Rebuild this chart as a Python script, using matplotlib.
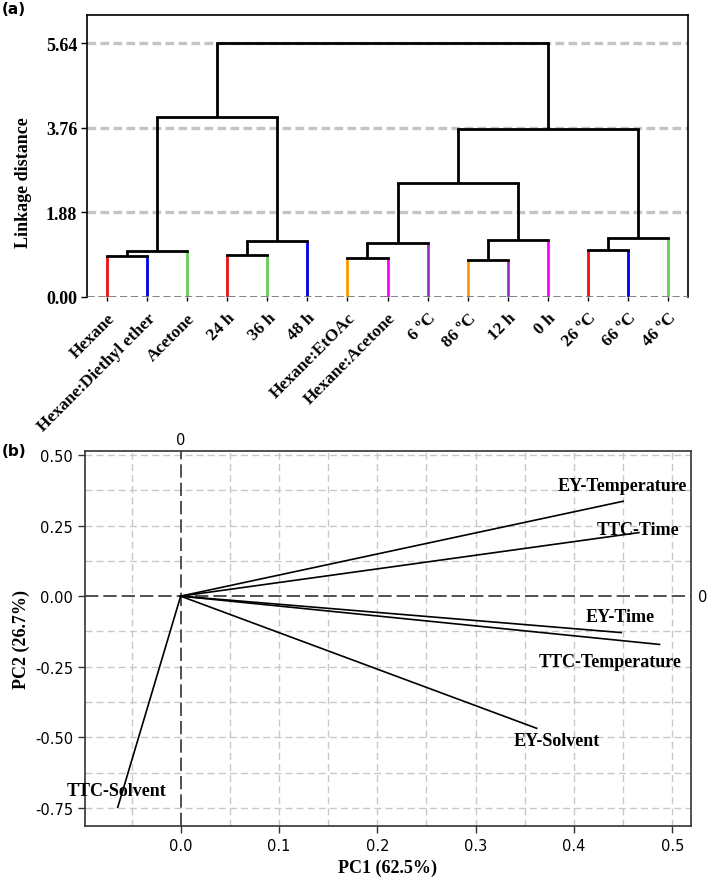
import matplotlib
matplotlib.use("Agg")
import matplotlib.pyplot as plt
import numpy as np

# ---------------- Data ----------------
# Panel (a): dendrogram (leaves in display order)
leaf_labels = ["Hexane", "Hexane:Diethyl ether", "Acetone", "24 h", "36 h", "48 h",
               "Hexane:EtOAc", "Hexane:Acetone", "6 ºC", "86 ºC", "12 h", "0 h",
               "26 ºC", "66 ºC", "46 ºC"]
leaf_colors = ["#ee1111", "#0000ee", "#66cc55", "#ee1111", "#66cc55", "#0000ee",
               "#ff9900", "#ff00ff", "#9933cc", "#ff9900", "#9933cc", "#ff00ff",
               "#ee1111", "#0000ee", "#66cc55"]
# merges: (child_a, child_b, height); new cluster ids start at len(leaf_labels)
merge_a = [0, 15, 3, 17, 6, 19, 9, 21, 12, 23, 20, 25, 16, 27]
merge_b = [1, 2, 4, 5, 7, 8, 10, 11, 13, 14, 22, 24, 18, 26]
merge_h = [0.92, 1.03, 0.94, 1.24, 0.87, 1.19, 0.83, 1.27, 1.05, 1.32, 2.53, 3.73, 4.00, 5.64]
dendro_ticks = [0.00, 1.88, 3.76, 5.64]

# Panel (b): PCA loadings
pc_vars = ["EY-Temperature", "TTC-Time", "EY-Time", "TTC-Temperature", "EY-Solvent", "TTC-Solvent"]
pc1 = [0.450, 0.466, 0.448, 0.487, 0.362, -0.064]
pc2 = [0.336, 0.225, -0.129, -0.171, -0.468, -0.748]
lab_x = [0.449, 0.465, 0.447, 0.437, 0.382, -0.065]
lab_y = [0.393, 0.237, -0.071, -0.231, -0.512, -0.689]
pc_xticks = [0.0, 0.1, 0.2, 0.3, 0.4, 0.5]
pc_yticks = [0.50, 0.25, 0.00, -0.25, -0.50, -0.75]

# ---------------- Figure ----------------
W, H = 709, 879
fig = plt.figure(figsize=(W / 100, H / 100), dpi=100)
serif = ["Liberation Serif", "DejaVu Serif"]

# ---- Panel (a) ----
ax1 = fig.add_axes([87 / W, 1 - 298 / H, 601 / W, 282 / H])
n = len(leaf_labels)
xpos = {i: float(i) for i in range(n)}
hgt = {i: 0.0 for i in range(n)}
for k, (a, b, h) in enumerate(zip(merge_a, merge_b, merge_h)):
    cid = n + k
    for c in (a, b):
        col = leaf_colors[c] if c < n else "black"
        ax1.plot([xpos[c], xpos[c]], [hgt[c], h], color=col, lw=2.0,
                 solid_capstyle="butt", zorder=3)
    ax1.plot([xpos[a], xpos[b]], [h, h], color="black", lw=2.0,
             solid_capstyle="projecting", zorder=3)
    xpos[cid] = (xpos[a] + xpos[b]) / 2
    hgt[cid] = h

for t in dendro_ticks[1:]:
    ax1.axhline(t, color="#c4c4c4", lw=2.4, ls=(0, (2.6, 1.3)), zorder=1)
ax1.axhline(0, color="#777777", lw=2.0, ls=(0, (2.6, 1.3)), zorder=4)

ax1.set_xlim(-0.5, n - 0.5)
ax1.set_ylim(0, 6.27)
ax1.set_yticks(dendro_ticks)
ax1.set_yticklabels([f"{t:.2f}" for t in dendro_ticks], fontfamily=serif,
                    fontweight="bold", fontsize=13)
ax1.set_xticks(range(n))
ax1.set_xticklabels(leaf_labels, rotation=45, ha="right", rotation_mode="anchor",
                    fontfamily=serif, fontweight="bold", fontsize=12.5)
ax1.tick_params(axis="x", length=3, width=1, pad=6)
ax1.tick_params(axis="y", length=4, width=1, pad=3)
ax1.spines["bottom"].set_visible(False)
for s in ("left", "right", "top"):
    ax1.spines[s].set_linewidth(1.2)
ax1.set_ylabel("Linkage distance", fontfamily=serif, fontweight="bold", fontsize=13)
ax1.yaxis.set_label_coords(-0.092, 0.41)
fig.text(2 / W, 1 - 9 / H, "(a)", fontsize=11, fontweight="bold", va="center", ha="left")

# ---- Panel (b) ----
ax2 = fig.add_axes([85 / W, 1 - 827 / H, 606 / W, 375 / H])
for gx in np.arange(-0.05, 0.501, 0.05):
    if abs(gx) > 1e-9:
        ax2.axvline(gx, color="#c8c8c8", lw=1.0, ls=(0, (5, 3)), zorder=1)
for gy in np.arange(-0.75, 0.501, 0.125):
    if abs(gy) > 1e-9:
        ax2.axhline(gy, color="#c8c8c8", lw=1.0, ls=(0, (5, 3)), zorder=1)
ax2.axvline(0, color="#333333", lw=1.2, ls=(0, (8, 3)), zorder=2)
ax2.axhline(0, color="#333333", lw=1.2, ls=(0, (8, 3)), zorder=2)

for x, y in zip(pc1, pc2):
    ax2.plot([0, x], [0, y], color="black", lw=1.2, zorder=3)
for name, x, y in zip(pc_vars, lab_x, lab_y):
    ax2.text(x, y, name, ha="center", va="center", fontfamily=serif,
             fontweight="bold", fontsize=13, zorder=4)

ax2.set_xlim(-0.0973, 0.519)
ax2.set_ylim(-0.814, 0.514)
ax2.set_xticks(pc_xticks)
ax2.set_xticklabels([f"{t:.1f}" for t in pc_xticks], fontsize=10.5)
ax2.set_yticks(pc_yticks)
ax2.set_yticklabels([f"{t:.2f}" for t in pc_yticks], fontsize=10.5)
ax2.tick_params(length=5, width=1, color="#333333")
for s in ax2.spines.values():
    s.set_linewidth(1.2)
    s.set_color("#333333")
ax2.set_xlabel("PC1 (62.5%)", fontfamily=serif, fontweight="bold", fontsize=13)
ax2.set_ylabel("PC2 (26.7%)", fontfamily=serif, fontweight="bold", fontsize=13)
ax2.text(0, 1.01, "0", transform=ax2.get_xaxis_transform(), ha="center", va="bottom",
         fontsize=10.5)
ax2.text(1.012, 0, "0", transform=ax2.get_yaxis_transform(), ha="left", va="center",
         fontsize=10.5)
fig.text(2 / W, 1 - 452 / H, "(b)", fontsize=11, fontweight="bold", va="center", ha="left")

fig.savefig("out.png", dpi=100)
